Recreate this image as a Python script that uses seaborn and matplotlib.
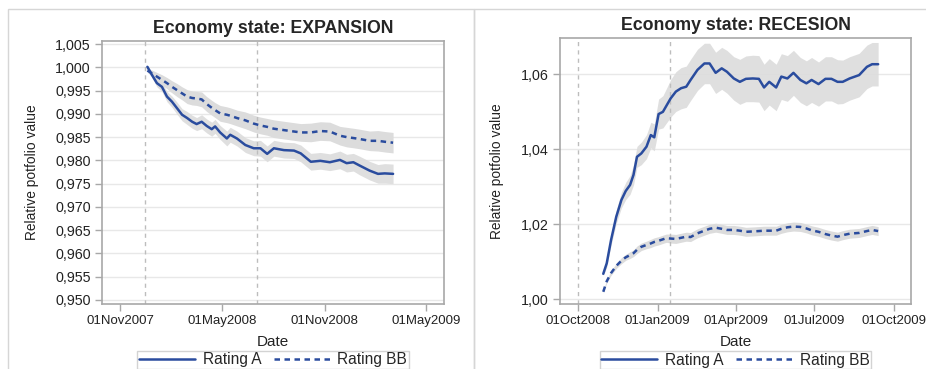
import numpy as np
import pandas as pd

import matplotlib
matplotlib.use("Agg")
import matplotlib.pyplot as plt
import matplotlib.dates as mdates
from matplotlib.lines import Line2D
from matplotlib.patches import Rectangle
import seaborn as sns

# ---- data ----
exp_dates = ["2007-12-20", "2007-12-28", "2008-01-06", "2008-01-15", "2008-01-24", "2008-02-02",
             "2008-02-11", "2008-02-20", "2008-02-29", "2008-03-09", "2008-03-17", "2008-03-26",
             "2008-04-04", "2008-04-13", "2008-04-19", "2008-04-28", "2008-05-10", "2008-05-16",
             "2008-05-28", "2008-06-12", "2008-06-27", "2008-07-09", "2008-07-21", "2008-08-02",
             "2008-08-20", "2008-09-07", "2008-09-19", "2008-10-07", "2008-10-24", "2008-11-10",
             "2008-11-28", "2008-12-10", "2008-12-22", "2009-01-02", "2009-01-20", "2009-02-04",
             "2009-02-16", "2009-03-03"]
exp_a = [1.0001, 0.9984, 0.9966, 0.9958, 0.9937, 0.9926, 0.9912, 0.9898, 0.9891, 0.9883,
         0.9878, 0.9883, 0.9874, 0.9867, 0.9873, 0.9860, 0.9847, 0.9855, 0.9847, 0.9833,
         0.9826, 0.9826, 0.9814, 0.9826, 0.9822, 0.9821, 0.9815, 0.9797, 0.9799, 0.9796,
         0.9801, 0.9794, 0.9796, 0.9789, 0.9778, 0.9771, 0.9772, 0.9771]
exp_bb = [0.9993, 0.9987, 0.9980, 0.9973, 0.9966, 0.9958, 0.9951, 0.9944, 0.9937, 0.9934,
          0.9933, 0.9931, 0.9921, 0.9913, 0.9908, 0.9901, 0.9898, 0.9896, 0.9891, 0.9886,
          0.9879, 0.9875, 0.9872, 0.9868, 0.9865, 0.9862, 0.9860, 0.9860, 0.9863, 0.9862,
          0.9853, 0.9850, 0.9848, 0.9846, 0.9842, 0.9842, 0.9840, 0.9838]
exp_a_band = [0.0003, 0.0006, 0.0008, 0.0010, 0.0011, 0.0012, 0.0013, 0.0013, 0.0014, 0.0014,
              0.0014, 0.0015, 0.0015, 0.0015, 0.0015, 0.0015, 0.0016, 0.0016, 0.0016, 0.0016,
              0.0016, 0.0017, 0.0017, 0.0017, 0.0017, 0.0017, 0.0018, 0.0018, 0.0018, 0.0018,
              0.0019, 0.0019, 0.0019, 0.0020, 0.0020, 0.0020, 0.0021, 0.0021]
exp_bb_band = [0.0004, 0.0007, 0.0009, 0.0011, 0.0012, 0.0013, 0.0014, 0.0014, 0.0015, 0.0015,
               0.0015, 0.0016, 0.0016, 0.0016, 0.0016, 0.0017, 0.0017, 0.0017, 0.0017, 0.0018,
               0.0018, 0.0018, 0.0018, 0.0019, 0.0019, 0.0019, 0.0019, 0.0020, 0.0020, 0.0020,
               0.0020, 0.0021, 0.0021, 0.0021, 0.0021, 0.0022, 0.0022, 0.0022]

rec_dates = ["2008-10-30", "2008-11-03", "2008-11-08", "2008-11-14", "2008-11-20", "2008-11-25",
             "2008-11-30", "2008-12-04", "2008-12-08", "2008-12-13", "2008-12-19", "2008-12-24",
             "2008-12-28", "2009-01-02", "2009-01-07", "2009-01-11", "2009-01-16", "2009-01-22",
             "2009-01-28", "2009-02-03", "2009-02-08", "2009-02-16", "2009-02-24", "2009-03-02",
             "2009-03-09", "2009-03-16", "2009-03-22", "2009-03-30", "2009-04-06", "2009-04-13",
             "2009-04-21", "2009-04-28", "2009-05-04", "2009-05-10", "2009-05-18", "2009-05-24",
             "2009-05-31", "2009-06-07", "2009-06-15", "2009-06-22", "2009-06-28", "2009-07-06",
             "2009-07-14", "2009-07-21", "2009-07-28", "2009-08-03", "2009-08-11", "2009-08-22",
             "2009-08-31", "2009-09-06", "2009-09-13"]
rec_a = [1.0068, 1.0096, 1.0158, 1.0220, 1.0265, 1.0289, 1.0305, 1.0332, 1.0380, 1.0389,
         1.0407, 1.0438, 1.0432, 1.0494, 1.0500, 1.0516, 1.0536, 1.0554, 1.0563, 1.0567,
         1.0585, 1.0612, 1.0629, 1.0629, 1.0604, 1.0616, 1.0607, 1.0589, 1.0580, 1.0588,
         1.0589, 1.0588, 1.0565, 1.0580, 1.0565, 1.0594, 1.0589, 1.0604, 1.0585, 1.0576,
         1.0585, 1.0574, 1.0588, 1.0588, 1.0580, 1.0580, 1.0589, 1.0598, 1.0620, 1.0627,
         1.0627]
rec_bb = [1.0020, 1.0048, 1.0070, 1.0089, 1.0103, 1.0112, 1.0118, 1.0123, 1.0132, 1.0140,
          1.0145, 1.0149, 1.0153, 1.0156, 1.0160, 1.0163, 1.0162, 1.0161, 1.0164, 1.0167,
          1.0166, 1.0176, 1.0183, 1.0188, 1.0191, 1.0188, 1.0185, 1.0185, 1.0183, 1.0180,
          1.0181, 1.0182, 1.0183, 1.0183, 1.0183, 1.0188, 1.0192, 1.0194, 1.0193, 1.0189,
          1.0184, 1.0180, 1.0174, 1.0170, 1.0167, 1.0171, 1.0175, 1.0177, 1.0182, 1.0185,
          1.0182]
rec_a_band = [0.0005, 0.0010, 0.0014, 0.0018, 0.0021, 0.0023, 0.0025, 0.0027, 0.0028, 0.0030,
              0.0032, 0.0034, 0.0036, 0.0040, 0.0043, 0.0046, 0.0050, 0.0053, 0.0055, 0.0055,
              0.0055, 0.0055, 0.0054, 0.0054, 0.0055, 0.0056, 0.0057, 0.0058, 0.0060, 0.0061,
              0.0062, 0.0062, 0.0062, 0.0062, 0.0062, 0.0061, 0.0061, 0.0060, 0.0060, 0.0060,
              0.0060, 0.0059, 0.0059, 0.0059, 0.0059, 0.0058, 0.0058, 0.0058, 0.0058, 0.0058,
              0.0058]
rec_bb_band = [0.0003, 0.0005, 0.0006, 0.0007, 0.0008, 0.0008, 0.0009, 0.0009, 0.0010, 0.0010,
               0.0010, 0.0011, 0.0011, 0.0011, 0.0011, 0.0011, 0.0012, 0.0012, 0.0012, 0.0012,
               0.0012, 0.0012, 0.0012, 0.0012, 0.0012, 0.0012, 0.0012, 0.0012, 0.0012, 0.0012,
               0.0012, 0.0012, 0.0012, 0.0012, 0.0012, 0.0012, 0.0012, 0.0012, 0.0012, 0.0012,
               0.0012, 0.0012, 0.0012, 0.0012, 0.0012, 0.0012, 0.0012, 0.0012, 0.0012, 0.0012,
               0.0012]

exp_yticks = [0.950, 0.955, 0.960, 0.965, 0.970, 0.975, 0.980, 0.985, 0.990, 0.995, 1.000, 1.005]
exp_ytick_labels = ["0,950", "0,955", "0,960", "0,965", "0,970", "0,975", "0,980", "0,985",
                    "0,990", "0,995", "1,000", "1,005"]
exp_xticks = ["2007-11-01", "2008-05-01", "2008-11-01", "2009-05-01"]
exp_xtick_labels = ["01Nov2007", "01May2008", "01Nov2008", "01May2009"]
exp_refs = ["2007-12-15", "2008-07-02"]

rec_yticks = [1.00, 1.02, 1.04, 1.06]
rec_ytick_labels = ["1,00", "1,02", "1,04", "1,06"]
rec_xticks = ["2008-10-01", "2009-01-01", "2009-04-01", "2009-07-01", "2009-10-01"]
rec_xtick_labels = ["01Oct2008", "01Jan2009", "01Apr2009", "01Jul2009", "01Oct2009"]
rec_refs = ["2008-10-01", "2009-01-15"]

BLUE = "#2a4c9e"
BAND = "#dcdcdc"
GRIDC = "#e8e8e8"
FRAME = "#a8a8a8"
DASH = (0, (2.2, 1.8))

sns.set_style("white")
plt.rcParams["font.family"] = ["Liberation Sans", "DejaVu Sans"]

fig = plt.figure(figsize=(9.26, 3.69), dpi=100)

# panel frames
fig.add_artist(Rectangle((8 / 926, -0.1), 466 / 926, 1.1 - 9 / 369, transform=fig.transFigure,
                         fill=False, edgecolor="#d6d6d6", lw=1.0))
fig.add_artist(Rectangle((474 / 926, -0.1), 0.6, 1.1 - 9 / 369, transform=fig.transFigure,
                         fill=False, edgecolor="#d6d6d6", lw=1.0))


def panel(ax, dates, a, bb, a_band, bb_band, title, yticks, ylabels, xticks, xlabels, refs, ylim, xlim):
    df = pd.DataFrame({"Date": pd.to_datetime(dates), "A": a, "BB": bb,
                       "A_band": a_band, "BB_band": bb_band})
    ax.fill_between(df["Date"], df["BB"] - df["BB_band"], df["BB"] + df["BB_band"],
                    color=BAND, lw=0, zorder=1)
    ax.fill_between(df["Date"], df["A"] - df["A_band"], df["A"] + df["A_band"],
                    color=BAND, lw=0, zorder=1, alpha=0.9)
    sns.lineplot(data=df, x="Date", y="A", ax=ax, color=BLUE, lw=1.8, zorder=3)
    sns.lineplot(data=df, x="Date", y="BB", ax=ax, color=BLUE, lw=1.8, zorder=3,
                 dashes=False, linestyle=DASH)
    for r in refs:
        ax.axvline(pd.Timestamp(r), color="#bdbdbd", lw=1.0, ls=(0, (3, 3)), zorder=2)
    ax.set_ylim(*ylim)
    ax.set_xlim(pd.Timestamp(xlim[0]), pd.Timestamp(xlim[1]))
    ax.set_yticks(yticks)
    ax.set_yticklabels(ylabels)
    ax.set_xticks([mdates.date2num(pd.Timestamp(t)) for t in xticks])
    ax.set_xticklabels(xlabels)
    ax.yaxis.grid(True, color=GRIDC, lw=1.0)
    ax.set_axisbelow(True)
    for s in ax.spines.values():
        s.set_color(FRAME)
        s.set_linewidth(1.2)
    ax.tick_params(axis="both", direction="out", length=5, width=1, color=FRAME,
                   labelcolor="#222222", pad=3, bottom=True, left=True)
    ax.tick_params(axis="x", labelsize=9.5)
    ax.tick_params(axis="y", labelsize=10.3)
    ax.set_xlabel("Date", fontsize=11, color="#222222", labelpad=6)
    ax.set_ylabel("Relative potfolio value", fontsize=9.9, color="#222222", labelpad=12)
    ax.set_title(title, fontsize=12.8, fontweight="bold", pad=6)
    handles = [Line2D([], [], color=BLUE, lw=1.8),
               Line2D([], [], color=BLUE, lw=1.8, ls=DASH)]
    leg = ax.legend(handles, ["Rating A", "Rating BB"], loc="upper center",
                    bbox_to_anchor=(0.5, -0.178), ncol=2, frameon=True, fancybox=False,
                    fontsize=11.2, handlelength=3.6, columnspacing=0.8, handletextpad=0.5,
                    borderpad=0.1, borderaxespad=0)
    leg.get_frame().set_edgecolor("#c8c8c8")
    leg.get_frame().set_linewidth(1.0)


ax1 = fig.add_axes([0.1102, 0.1762, 0.3693, 0.7127])
panel(ax1, exp_dates, exp_a, exp_bb, exp_a_band, exp_bb_band, "Economy state: EXPANSION",
      exp_yticks, exp_ytick_labels, exp_xticks, exp_xtick_labels, exp_refs,
      (0.94914, 1.00565), ("2007-09-30", "2009-06-02"))

ax2 = fig.add_axes([0.6048, 0.1762, 0.3790, 0.7209])
panel(ax2, rec_dates, rec_a, rec_bb, rec_a_band, rec_bb_band, "Economy state: RECESION",
      rec_yticks, rec_ytick_labels, rec_xticks, rec_xtick_labels, rec_refs,
      (0.99875, 1.0697), ("2008-09-10", "2009-10-21"))

fig.savefig("out.png", dpi=100)
